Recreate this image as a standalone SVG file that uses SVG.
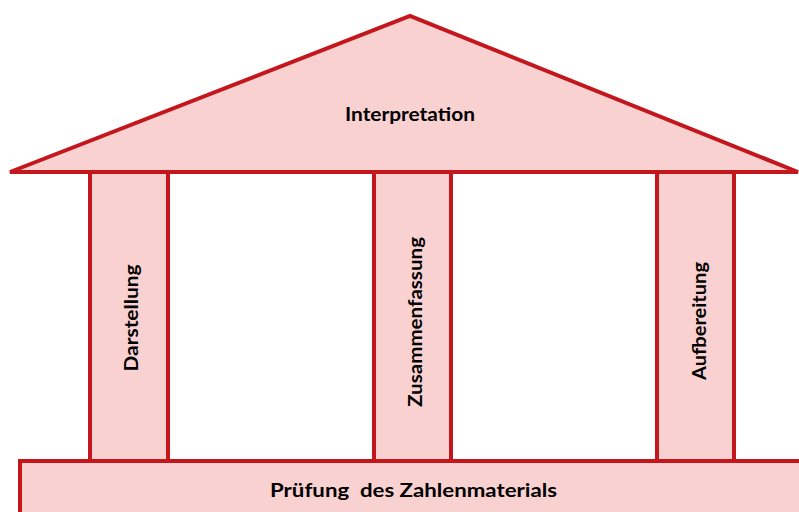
<svg xmlns="http://www.w3.org/2000/svg" width="799" height="512" viewBox="0 0 799 512">
<style>
.s{fill:#F9D1D0;stroke:#C3161D;stroke-width:4;stroke-linejoin:miter}
.t{font-family:Lato,"Liberation Sans",Arial,sans-serif;font-weight:bold;font-size:18px;fill:#000;text-anchor:middle;dominant-baseline:central}
</style>
<rect width="799" height="512" fill="#fff"/>
<g id="pillar-darstellung"><rect class="s" x="90" y="160" width="78" height="301"/><text class="t" transform="translate(131,318) rotate(-90)" textLength="107" lengthAdjust="spacingAndGlyphs">Darstellung</text></g>
<g id="pillar-zusammenfassung"><rect class="s" x="374" y="160" width="77" height="301"/><text class="t" transform="translate(415,322) rotate(-90)" textLength="170" lengthAdjust="spacingAndGlyphs">Zusammenfassung</text></g>
<g id="pillar-aufbereitung"><rect class="s" x="657" y="160" width="77" height="301"/><text class="t" transform="translate(699,321) rotate(-90)" textLength="118" lengthAdjust="spacingAndGlyphs">Aufbereitung</text></g>
<g id="roof"><polygon class="s" points="10,172 410,16 798,172"/><text class="t" x="410" y="114" textLength="130" lengthAdjust="spacingAndGlyphs">Interpretation</text></g>
<g id="base"><rect class="s" x="20" y="461" width="790" height="60"/><text class="t" x="413.5" y="490" textLength="287" lengthAdjust="spacingAndGlyphs" xml:space="preserve">Prüfung  des Zahlenmaterials</text></g>
<g id="connectors"/>
</svg>
